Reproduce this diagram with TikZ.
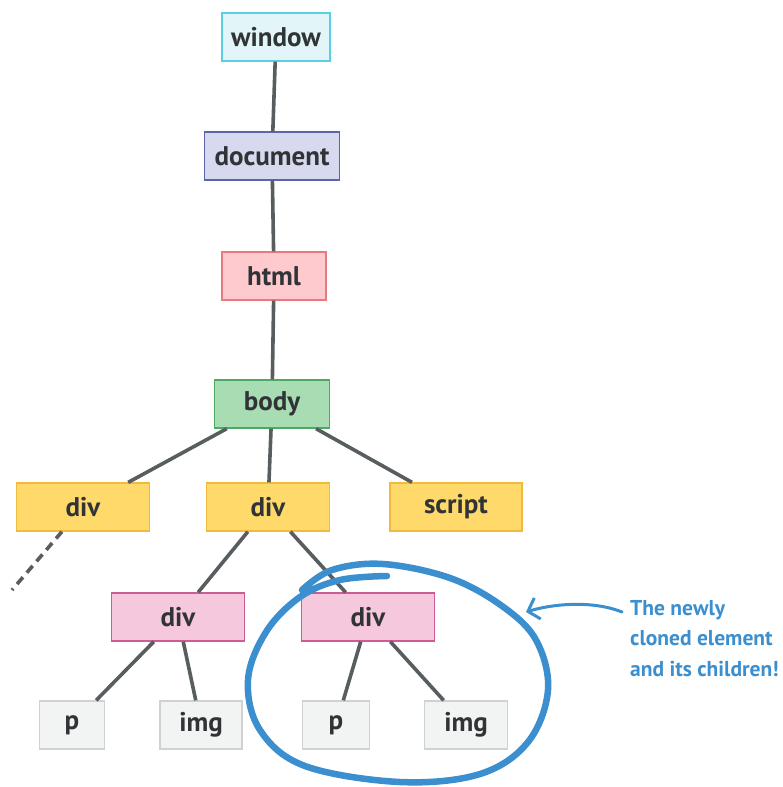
\documentclass[tikz,border=0pt]{standalone}
\usepackage{fontspec}
\setmainfont{PT Sans}
\usepackage{xcolor}
\usetikzlibrary{arrows.meta}

\definecolor{tagtext}{HTML}{303437}
\definecolor{edgegrey}{HTML}{585D60}
\definecolor{cloneblue}{HTML}{3B8FCF}
\definecolor{windowfill}{HTML}{E2F6FA}
\definecolor{windowline}{HTML}{5ACFE2}
\definecolor{docfill}{HTML}{D7DAEE}
\definecolor{docline}{HTML}{5D64A8}
\definecolor{htmlfill}{HTML}{FFCACE}
\definecolor{htmlline}{HTML}{E8797F}
\definecolor{bodyfill}{HTML}{A8DCB3}
\definecolor{bodyline}{HTML}{4EAA63}
\definecolor{divfill}{HTML}{FFDA6A}
\definecolor{divline}{HTML}{F0BA3C}
\definecolor{innerfill}{HTML}{F6C8DE}
\definecolor{innerline}{HTML}{CC5C96}
\definecolor{leaffill}{HTML}{F2F3F3}
\definecolor{leafline}{HTML}{CFD2D2}

\begin{document}
\begin{tikzpicture}[x=1pt, y=-1pt,
  tag/.style={draw, line width=1.3pt, inner sep=0pt, minimum height=48pt,
    text=tagtext, font=\fontsize{27}{30}\selectfont\bfseries},
  windowtag/.style={tag, fill=windowfill, draw=windowline},
  doctag/.style={tag, fill=docfill, draw=docline},
  htmltag/.style={tag, fill=htmlfill, draw=htmlline},
  bodytag/.style={tag, fill=bodyfill, draw=bodyline},
  divtag/.style={tag, fill=divfill, draw=divline},
  innertag/.style={tag, fill=innerfill, draw=innerline},
  leaftag/.style={tag, fill=leaffill, draw=leafline},
  branch/.style={draw=edgegrey, line width=\edgewidth},
  ring/.style={draw=cloneblue, line width=\ringwidth, line cap=round},
  note/.style={text=cloneblue, align=left, inner sep=0pt,
    font=\fontsize{21.5}{30.5}\selectfont\bfseries}]
\pgfmathsetmacro{\edgewidth}{3.6}
\pgfmathsetmacro{\ringwidth}{6.5}

\useasboundingbox (0,0) rectangle (782,787);

% the tree
\node[windowtag, minimum width=108pt] (window) at (276,37) {window};
\node[doctag, minimum width=135pt] (document) at (272,156) {document};
\node[htmltag, minimum width=104pt] (html) at (274,276) {html};
\node[bodytag, minimum width=115pt] (body) at (272,404) {body};
\node[divtag, minimum width=133pt] (div_left) at (83,507) {div};
\node[divtag, minimum width=123pt] (div_mid) at (268,507) {div};
\node[divtag, minimum width=132pt] (script) at (456,507) {script};
\node[innertag, minimum width=133pt] (div_orig) at (178,617) {div};
\node[innertag, minimum width=133pt] (div_clone) at (368,617) {div};
\node[leaftag, minimum width=65pt] (p_orig) at (72,725) {p};
\node[leaftag, minimum width=82pt] (img_orig) at (201,725) {img};
\node[leaftag, minimum width=67pt] (p_clone) at (336,725) {p};
\node[leaftag, minimum width=83pt] (img_clone) at (466,725) {img};

\coordinate (lost_child) at (12,590);

\draw[branch] (window) -- (document);
\draw[branch] (document) -- (html);
\draw[branch] (html) -- (body);
\draw[branch] (body) -- (div_left);
\draw[branch] (body) -- (div_mid);
\draw[branch] (body) -- (script);
\draw[branch] (div_mid) -- (div_orig);
\draw[branch] (div_mid) -- (div_clone);
\draw[branch] (div_orig) -- (p_orig);
\draw[branch] (div_orig) -- (img_orig);
\draw[branch] (div_clone) -- (p_clone);
\draw[branch] (div_clone) -- (img_clone);
\draw[branch, dashed, dash pattern=on 9pt off 6pt] (div_left) -- (lost_child);

% the hand drawn ring round the clone
\draw[ring] plot[smooth, tension=0.6] coordinates {(387,576) (340,580) (300,597)
  (266,632) (248,680) (260,730) (305,766) (400,782) (480,774) (528,742)
  (548,690) (536,640) (502,606) (450,578) (383,564) (332,570) (302,590)};

\node[note, anchor=north west] (note) at (630,600) {The newly\\cloned element\\and its children!};
\coordinate (note_tail) at (622,612);
\coordinate (ring_hit) at (526,612);
\draw[draw=cloneblue, line width=3pt, line cap=round,
  -{Straight Barb[length=10pt, width=22pt, line width=3pt]}]
  (note_tail) .. controls (592,600) and (552,604) .. (ring_hit);
\end{tikzpicture}
\end{document}
